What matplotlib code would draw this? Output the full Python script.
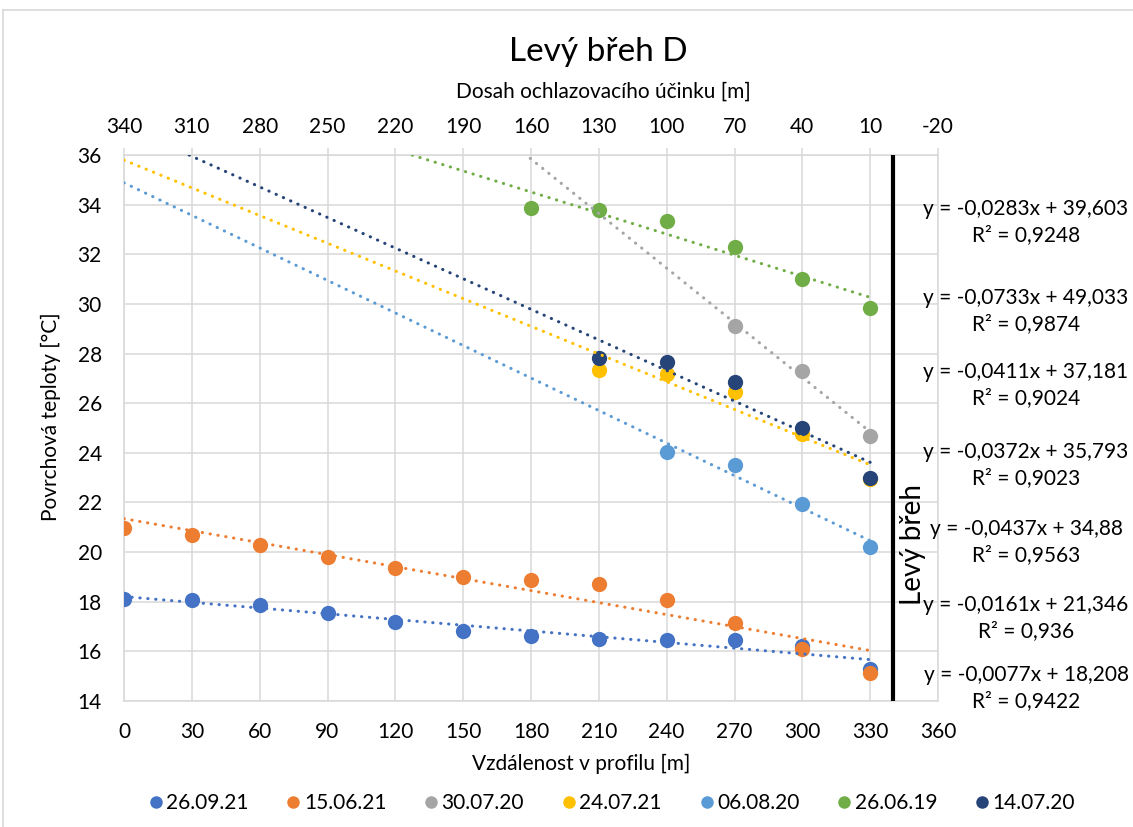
import matplotlib
matplotlib.use('Agg')
import matplotlib.pyplot as plt
from matplotlib.lines import Line2D

plt.rcParams['font.family'] = ['Lato', 'DejaVu Sans']
plt.rcParams['axes.unicode_minus'] = False

# measured surface temperatures along the profile
x_full = [0, 30, 60, 90, 120, 150, 180, 210, 240, 270, 300, 330]
t_260921 = [18.10, 18.06, 17.86, 17.53, 17.17, 16.83, 16.62, 16.51, 16.47, 16.44, 16.20, 15.30]
t_150621 = [20.97, 20.69, 20.27, 19.81, 19.35, 19.00, 18.87, 18.72, 18.06, 17.13, 16.10, 15.11]
x_300720 = [270, 300, 330]
t_300720 = [29.09, 27.29, 24.69]
x_240721 = [210, 240, 270, 300, 330]
t_240721 = [27.33, 27.19, 26.45, 24.77, 22.95]
x_060820 = [240, 270, 300, 330]
t_060820 = [24.03, 23.50, 21.94, 20.20]
x_260619 = [180, 210, 240, 270, 300, 330]
t_260619 = [33.88, 33.79, 33.36, 32.30, 31.01, 29.83]
x_140720 = [210, 240, 270, 300, 330]
t_140720 = [27.83, 27.67, 26.85, 25.01, 23.00]

dates = ['26.09.21', '15.06.21', '30.07.20', '24.07.21', '06.08.20', '26.06.19', '14.07.20']
xs = [x_full, x_full, x_300720, x_240721, x_060820, x_260619, x_140720]
ts = [t_260921, t_150621, t_300720, t_240721, t_060820, t_260619, t_140720]
colors = ['#4472C4', '#ED7D31', '#A5A5A5', '#FFC000', '#5B9BD5', '#70AD47', '#264478']

# linear trends (slope, intercept, R^2)
slopes = [-0.0077, -0.0161, -0.0733, -0.0372, -0.0437, -0.0283, -0.0411]
intercepts = [18.208, 21.346, 49.033, 35.793, 34.88, 39.603, 37.181]
r2 = [0.9422, 0.936, 0.9874, 0.9023, 0.9563, 0.9248, 0.9024]
trend_x = [0, 330]

# order of the equation labels on the right, top to bottom
label_order = [5, 2, 6, 3, 4, 1, 0]
label_y_px = [222, 311, 385, 465, 542, 618, 688]

W, H = 1133, 827
fig = plt.figure(figsize=(W / 100, H / 100), dpi=100)
ax = fig.add_axes([124 / W, 1 - 701 / H, (938 - 124) / W, (701 - 155) / H])

grid_c = '#D9D9D9'
for i in range(len(dates)):
    ax.plot(xs[i], ts[i], 'o', color=colors[i], ms=11, mec='none', zorder=3, label=dates[i])
for i in range(len(dates)):
    ty = [slopes[i] * v + intercepts[i] for v in trend_x]
    ax.plot(trend_x, ty, color=colors[i], lw=2.2, linestyle=(0, (0.1, 2.5)),
            dash_capstyle='round', zorder=4)

ax.axvline(340, color='black', lw=3, zorder=5)
ax.text(349, 20.3, 'Levý břeh', rotation=90, ha='center', va='center', fontsize=20)

ax.set_xlim(0, 360)
ax.set_ylim(14, 36)
ax.set_xticks(range(0, 361, 30))
ax.set_yticks(range(14, 37, 2))
ax.grid(True, color=grid_c, lw=1.1)
ax.set_axisbelow(True)
for s in ax.spines.values():
    s.set_color(grid_c)
    s.set_linewidth(1.1)
ax.tick_params(axis='x', length=0, pad=15, labelsize=15)
ax.tick_params(axis='y', length=0, pad=16, labelsize=15)

ax.set_xlabel('Vzdálenost v profilu [m]', fontsize=15)
ax.xaxis.set_label_coords((581 - 124) / 814, -(754 - 701) / 546)
ax.set_ylabel('Povrchová teploty [°C]', fontsize=15)
ax.yaxis.set_label_coords((61 - 124) / 814, (701 - 417) / 546)

top = ax.secondary_xaxis('top', functions=(lambda v: 340 - v, lambda v: 340 - v))
top.set_xticks(range(340, -21, -30))
top.tick_params(length=5, width=1.1, color=grid_c, pad=8, labelsize=15)
top.spines['top'].set_visible(False)
fig.text(603 / W, 1 - 92 / H, 'Dosah ochlazovacího účinku [m]', ha='center', va='center',
         fontsize=15)

fig.text(598 / W, 1 - 52 / H, 'Levý břeh D', ha='center', va='center', fontsize=24)

for k, i in enumerate(label_order):
    eq = f'y = {slopes[i]}x + {intercepts[i]}\nR² = {r2[i]}'.replace('.', ',')
    fig.text(1026 / W, 1 - label_y_px[k] / H, eq, ha='center', va='center',
             fontsize=15, linespacing=1.35, multialignment='center')

handles = [Line2D([], [], ls='none', marker='o', ms=9, mec='none', color=c) for c in colors]
fig.legend(handles, dates, loc='center', bbox_to_anchor=(610 / W, 1 - 803 / H), ncol=7,
           frameon=False, fontsize=15, handletextpad=0.0, columnspacing=1.65,
           handlelength=1.0)

# chart area border
fig.add_artist(Line2D([3 / W, 3 / W], [0, 1 - 10 / H], color=grid_c, lw=1.2))
fig.add_artist(Line2D([3 / W, 1], [1 - 10 / H, 1 - 10 / H], color=grid_c, lw=1.2))

fig.savefig('out.png', dpi=100)
